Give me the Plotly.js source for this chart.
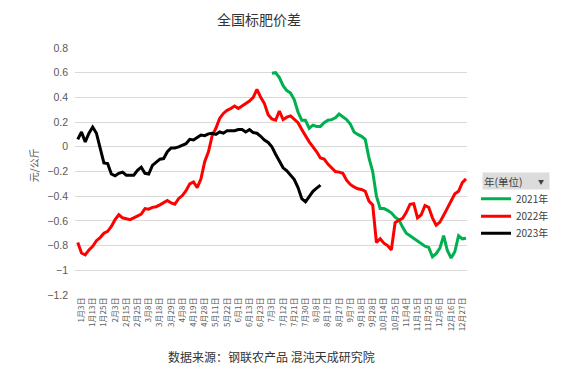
<!DOCTYPE html>
<html>
<head>
<meta charset="utf-8">
<script src="https://cdn.plot.ly/plotly-3.0.1.min.js"></script>
<style>
  html, body { margin: 0; padding: 0; background: #ffffff; }
  #chart { width: 573px; height: 371px; }
</style>
</head>
<body>
<div id="chart"></div>
<script>
// Category tick labels (one every 7 trading days)
const tickLabels = ['1月3日','1月13日','1月25日','2月3日','2月15日','2月25日','3月8日','3月18日','3月29日',
  '4月8日','4月19日','4月28日','5月11日','5月22日','6月1日','6月13日','6月23日','7月3日','7月12日',
  '7月21日','7月30日','8月8日','8月17日','8月27日','9月7日','9月18日','9月28日','10月14日','10月25日',
  '11月4日','11月15日','11月25日','12月6日','12月16日','12月27日'];

// Samples taken every 1/3 of a tick interval; start positions in tick units
const sampleStep = 1 / 3;
const start2021 = 17;        // 7月3日
const start2022 = -1 / 3;
const start2023 = -1 / 3;

const values2021 = [0.595,0.60,0.56,0.495,0.455,0.435,0.38,0.28,0.215,0.215,0.15,0.175,0.165,0.165,0.195,
  0.215,0.22,0.235,0.265,0.24,0.22,0.185,0.12,0.10,0.085,0.06,-0.09,-0.20,-0.40,-0.50,-0.50,-0.515,-0.535,
  -0.57,-0.59,-0.65,-0.70,-0.72,-0.74,-0.76,-0.785,-0.805,-0.815,-0.89,-0.865,-0.82,-0.72,-0.84,-0.90,
  -0.85,-0.72,-0.745,-0.74];

const values2022 = [-0.775,-0.86,-0.875,-0.835,-0.805,-0.76,-0.735,-0.70,-0.685,-0.645,-0.59,-0.55,-0.575,
  -0.58,-0.59,-0.575,-0.56,-0.545,-0.50,-0.505,-0.49,-0.485,-0.47,-0.45,-0.435,-0.455,-0.465,-0.42,-0.395,
  -0.355,-0.30,-0.285,-0.33,-0.26,-0.12,-0.04,0.09,0.15,0.23,0.27,0.295,0.31,0.33,0.31,0.33,0.35,0.37,0.40,
  0.465,0.40,0.35,0.26,0.225,0.215,0.29,0.22,0.24,0.25,0.22,0.195,0.14,0.085,0.04,0.0,-0.04,-0.09,-0.10,
  -0.14,-0.17,-0.20,-0.205,-0.215,-0.27,-0.305,-0.325,-0.34,-0.345,-0.36,-0.44,-0.47,-0.775,-0.745,-0.78,
  -0.80,-0.835,-0.615,-0.595,-0.58,-0.53,-0.465,-0.46,-0.575,-0.55,-0.475,-0.49,-0.575,-0.635,-0.61,-0.555,
  -0.50,-0.44,-0.38,-0.36,-0.29,-0.26];

const values2023 = [0.06,0.12,0.04,0.11,0.16,0.11,-0.01,-0.13,-0.135,-0.22,-0.235,-0.215,-0.205,-0.23,-0.23,
  -0.23,-0.19,-0.165,-0.215,-0.22,-0.15,-0.125,-0.10,-0.095,-0.04,-0.01,-0.01,0.0,0.01,0.025,0.06,0.055,
  0.075,0.095,0.09,0.105,0.11,0.10,0.12,0.11,0.13,0.13,0.13,0.14,0.14,0.12,0.14,0.115,0.11,0.085,0.055,
  0.035,0.0,-0.06,-0.12,-0.17,-0.195,-0.23,-0.265,-0.33,-0.42,-0.445,-0.40,-0.36,-0.335,-0.31];

const seriesNames = ['2021年','2022年','2023年'];
const seriesColors = ['#00B050','#FF0000','#000000'];

function xs(start, n) { const a = []; for (let i = 0; i < n; i++) a.push(start + i * sampleStep); return a; }

const allValues = [values2021, values2022, values2023];
const starts = [start2021, start2022, start2023];
const legendIds = ['legend', 'legend2', 'legend3'];
const traces = allValues.map((v, k) => ({
  type: 'scatter', mode: 'lines',
  x: xs(starts[k], v.length), y: v,
  name: seriesNames[k],
  legend: legendIds[k],
  line: { color: seriesColors[k], width: 3 },
  hoverinfo: 'skip'
}));

const tickVals = tickLabels.map((_, i) => i);
const cjk = '"Noto Sans CJK SC", "Liberation Sans", sans-serif';
const legendFont = { family: cjk, size: 10, color: '#404040' };
const legendX = 1.023;
const mkLegend = (y) => ({ x: legendX, xanchor: 'left', y: y, yanchor: 'top', bgcolor: 'rgba(0,0,0,0)',
  font: legendFont, itemwidth: 30 });

const layout = {
  width: 573, height: 371,
  margin: { l: 75, r: 106, t: 48, b: 76 },
  paper_bgcolor: '#ffffff', plot_bgcolor: '#ffffff',
  title: { text: '全国标肥价差', x: 0.452, xanchor: 'center', y: 0.946, yanchor: 'middle',
           font: { family: cjk, size: 14, color: '#333333' } },
  xaxis: {
    range: [-0.58, 34.42], tickmode: 'array', tickvals: tickVals, ticktext: tickLabels,
    tickangle: -90, tickfont: { family: cjk, size: 8, color: '#595959' },
    showgrid: false, zeroline: false, showline: false, ticks: '', fixedrange: true
  },
  yaxis: {
    range: [-1.2, 0.8], dtick: 0.2, tick0: 0, showgrid: true, gridcolor: '#d9d9d9', gridwidth: 1,
    zeroline: false, showline: false, ticks: '', ticklabelstandoff: 6,
    tickfont: { family: '"Liberation Sans", sans-serif', size: 10.5, color: '#595959' }, fixedrange: true
  },
  showlegend: true,
  legend: mkLegend(0.448),
  legend2: mkLegend(0.378),
  legend3: mkLegend(0.309),
  annotations: [
    { text: '元/公斤', xref: 'paper', yref: 'paper', x: -0.107, y: 0.526, xanchor: 'center', yanchor: 'middle',
      textangle: -90, showarrow: false, font: { family: cjk, size: 10, color: '#595959' } },
    { text: '数据来源：钢联农产品 混沌天成研究院', xref: 'paper', yref: 'paper', x: 0.5, y: -0.247,
      xanchor: 'center', yanchor: 'middle',
      showarrow: false, font: { family: cjk, size: 12, color: '#333333' } },
    { text: '年(单位)', xref: 'paper', yref: 'paper', x: 1.0375, y: 0.4615, xanchor: 'left', yanchor: 'middle',
      showarrow: false, bgcolor: '#dcdcdc', width: 64, height: 14, align: 'left', borderpad: 1,
      font: { family: cjk, size: 10.5, color: '#404040' } },
    { text: '▼', xref: 'paper', yref: 'paper', x: 1.189, y: 0.4615, xanchor: 'center', yanchor: 'middle',
      showarrow: false, font: { family: cjk, size: 6, color: '#404040' } }
  ]
};

Plotly.newPlot('chart', traces, layout, { displayModeBar: false, staticPlot: true });
</script>
</body>
</html>
